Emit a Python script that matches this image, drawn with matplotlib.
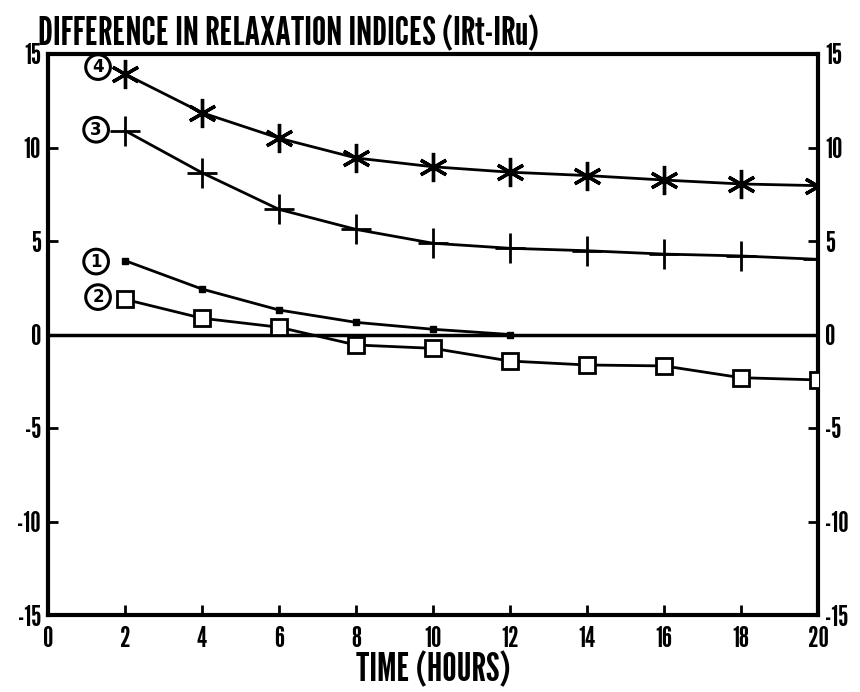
import matplotlib
matplotlib.use('Agg')
import matplotlib.pyplot as plt

plt.rcParams['font.family'] = ['League Gothic', 'DejaVu Sans']
plt.rcParams['axes.unicode_minus'] = False

# Data
hours = [2, 4, 6, 8, 10, 12, 14, 16, 18, 20]
curve1_hours = [2, 4, 6, 8, 10, 12]
curve1 = [3.95, 2.43, 1.31, 0.65, 0.28, 0.0]
curve2 = [1.88, 0.87, 0.39, -0.56, -0.74, -1.42, -1.63, -1.68, -2.31, -2.43]
curve3 = [10.9, 8.65, 6.69, 5.62, 4.88, 4.61, 4.48, 4.30, 4.20, 4.02]
curve4 = [13.93, 11.86, 10.5, 9.44, 8.97, 8.68, 8.5, 8.26, 8.05, 7.96]

labels = ['1', '2', '3', '4']
label_pos = [(1.25, 3.9), (1.3, 2.0), (1.25, 10.95), (1.3, 14.3)]

xticks = list(range(0, 21, 2))
yticks = [-15, -10, -5, 0, 5, 10, 15]

fig = plt.figure(figsize=(8.6, 6.92), dpi=100)
ax = fig.add_axes([48 / 860, 77 / 692, 770 / 860, 561 / 692])

ax.axhline(0, color='black', lw=2.5, zorder=1)

ax.plot(curve1_hours, curve1, color='black', lw=2, marker='s', markersize=5,
        markerfacecolor='black', zorder=3)
ax.plot(hours, curve2, color='black', lw=2, marker='s', markersize=12,
        markerfacecolor='white', markeredgewidth=2, zorder=3)
ax.plot(hours, curve3, color='black', lw=2, marker='+', markersize=22,
        markeredgewidth=2, zorder=3)
ax.plot(hours, curve4, color='black', lw=2, marker=(6, 2, 0), markersize=21,
        markeredgewidth=2.4, zorder=3)

# circled curve numbers
for lab, (x, y) in zip(labels, label_pos):
    ax.text(x, y, lab, ha='center', va='center', fontsize=12, fontweight='bold',
            family='DejaVu Sans',
            bbox=dict(boxstyle='circle,pad=0.2', fc='white', ec='black', lw=2.2))

ax.set_xlim(0, 20)
ax.set_ylim(-15, 15)
ax.set_xticks(xticks)
ax.set_yticks(yticks)
ax.tick_params(axis='both', direction='in', length=7, width=2, labelsize=21)
ax.tick_params(axis='y', right=True, labelright=True, pad=5)
ax.tick_params(axis='x', pad=8)
for s in ax.spines.values():
    s.set_linewidth(3)

ax.set_xlabel('TIME (HOURS)', fontsize=29, labelpad=0)
fig.text(38 / 860, (692 - 45) / 692, 'DIFFERENCE IN RELAXATION INDICES (IRt-IRu)',
         fontsize=29, ha='left', va='baseline')

fig.savefig('out.png', dpi=100)
